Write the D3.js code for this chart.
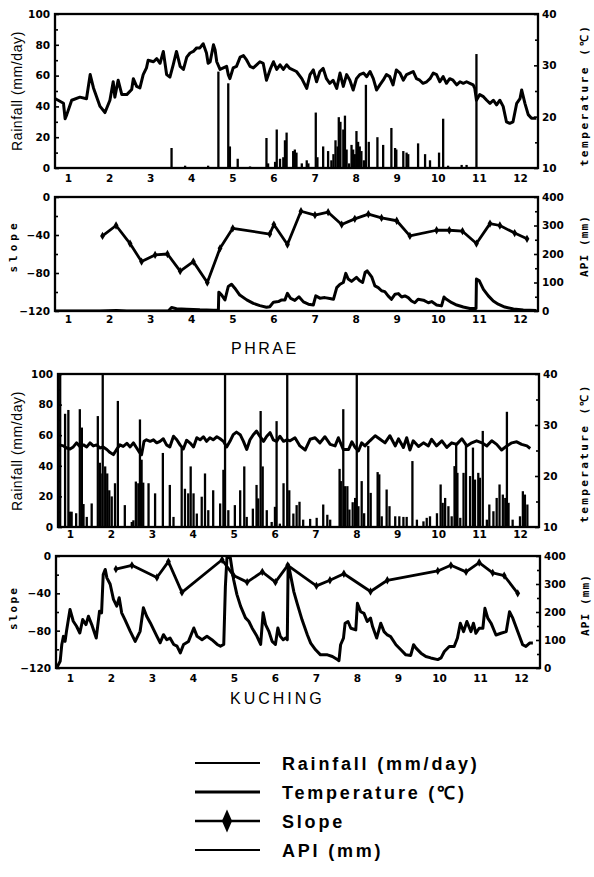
<!DOCTYPE html>
<html>
<head>
<meta charset="utf-8">
<script src="https://cdn.jsdelivr.net/npm/d3@7"></script>
<style>
  body { margin: 0; background: #fff; }
  svg { display: block; }
  .tick text { font-family: "DejaVu Sans", sans-serif; font-weight: bold; font-size: 10.5px; fill: #000; }
  .tick line { stroke: #000; stroke-width: 1.6; }
</style>
</head>
<body>
<script>
// ---------- data: x values are month positions (1 = Jan ... 12 = Dec) ----------
const months = [1, 2, 3, 4, 5, 6, 7, 8, 9, 10, 11, 12];
const rainTicks = [0, 20, 40, 60, 80, 100];
const tempTicks = [10, 20, 30, 40];
const slopeTicks = [-120, -80, -40, 0];
const apiTicks = [0, 100, 200, 300, 400];

// Phrae: daily air temperature (°C)
const phraeTemp = [
  [0.67,23.6],[0.76,23.2],[0.89,22.6],[0.93,19.6],[0.97,20.4],[1.09,23.2],[1.29,23.8],[1.45,23.5],
  [1.54,28.2],[1.62,25.6],[1.78,22.0],[1.90,20.8],[2.02,23.2],[2.10,26.8],[2.14,23.8],[2.22,27.1],
  [2.31,24.3],[2.43,24.3],[2.55,25.3],[2.59,27.4],[2.67,25.9],[2.75,25.6],[2.83,28.2],[2.91,29.5],
  [2.95,31.0],[3.08,30.7],[3.16,31.3],[3.24,30.4],[3.32,32.7],[3.40,28.2],[3.48,27.7],[3.56,30.1],
  [3.64,32.7],[3.73,29.8],[3.81,29.2],[3.89,31.6],[3.97,32.4],[4.05,32.7],[4.13,33.4],[4.21,33.4],
  [4.29,34.2],[4.37,32.4],[4.41,30.4],[4.46,30.7],[4.54,34.0],[4.58,33.0],[4.62,30.7],[4.70,29.2],
  [4.78,29.5],[4.86,29.8],[4.90,28.2],[4.94,27.4],[5.02,29.5],[5.10,29.8],[5.19,31.6],[5.27,31.9],
  [5.35,31.0],[5.43,29.8],[5.51,29.5],[5.59,30.1],[5.67,30.7],[5.75,30.4],[5.83,27.1],[5.92,29.2],
  [6.00,30.7],[6.08,29.2],[6.16,30.1],[6.24,29.2],[6.32,30.1],[6.40,29.4],[6.56,28.8],[6.69,27.4],
  [6.81,25.5],[6.89,28.2],[6.97,29.1],[7.05,26.8],[7.13,28.8],[7.21,29.4],[7.29,27.4],[7.37,26.5],
  [7.45,27.1],[7.54,25.5],[7.62,28.5],[7.70,25.9],[7.78,28.2],[7.86,27.1],[7.94,25.2],[8.02,27.4],
  [8.10,28.2],[8.19,28.5],[8.27,27.8],[8.35,28.8],[8.43,27.4],[8.51,25.2],[8.59,26.2],[8.67,27.1],
  [8.75,28.2],[8.83,27.8],[8.91,26.2],[8.99,29.1],[9.08,28.5],[9.16,27.1],[9.24,28.2],[9.32,28.5],
  [9.40,28.8],[9.48,27.4],[9.56,27.1],[9.64,26.5],[9.73,26.8],[9.81,27.4],[9.89,28.5],[9.97,28.2],
  [10.05,26.8],[10.13,27.8],[10.21,26.5],[10.29,27.4],[10.37,27.1],[10.46,26.2],[10.54,26.8],[10.62,26.5],
  [10.70,26.8],[10.78,26.5],[10.86,26.2],[10.90,25.5],[10.94,23.2],[11.02,24.3],[11.11,23.9],[11.19,23.2],
  [11.27,22.6],[11.35,23.2],[11.43,22.3],[11.51,23.2],[11.59,22.0],[11.67,19.0],[11.75,18.7],[11.83,19.0],
  [11.92,22.6],[12.00,23.5],[12.04,25.2],[12.12,22.6],[12.20,20.4],[12.28,19.7],[12.40,19.7]
];

// Phrae: daily rainfall (mm/day)
const phraeRain = [
  [3.52,13],[3.85,1.5],[4.41,1.5],[4.66,62.6],[4.90,55],[4.94,14],[5.13,6],[5.43,1],[5.83,19.5],[5.87,3],
  [6.04,4],[6.08,25],[6.16,6],[6.24,7],[6.28,18],[6.32,23],[6.48,11],[6.52,12],[6.56,10],[6.69,3],
  [6.81,5],[6.85,3],[7.03,36],[7.07,7],[7.21,14],[7.33,11],[7.41,5],[7.46,9],[7.51,18],[7.56,14],
  [7.59,33],[7.63,30],[7.70,25],[7.74,34],[7.78,12],[7.84,3],[7.90,15],[7.94,12],[7.98,9],[8.02,24],
  [8.06,17],[8.10,14],[8.14,11],[8.20,5],[8.25,54],[8.32,17],[8.53,20],[8.67,15],[8.87,26],[8.96,13],
  [8.99,12],[9.16,11],[9.24,10],[9.28,9],[9.52,16],[9.69,9],[9.81,5],[10.03,10],[10.13,32],[10.25,1.5],
  [10.58,2],[10.70,2],[10.94,74]
];

// Phrae: slope of the moisture curve
const phraeSlope = [
  [1.84,-41],[2.17,-30],[2.51,-49],[2.79,-68],[3.12,-61],[3.42,-60],[3.73,-78],[4.05,-68],[4.39,-90],
  [4.70,-54],[5.01,-33],[5.91,-39],[6.01,-29],[6.34,-50],[6.67,-15],[7.01,-19],[7.33,-16],[7.66,-29],
  [7.98,-23],[8.31,-18],[8.63,-22],[9.00,-25],[9.32,-41],[9.97,-35],[10.28,-35],[10.60,-36],[10.94,-49],
  [11.27,-28],[11.51,-30],[11.87,-38],[12.17,-44]
];

// Phrae: antecedent precipitation index (mm)
const phraeApi = [
  [0.67,0],[1.78,0],[2.18,2],[2.43,0],[3.44,0],[3.52,12],[3.64,8],[3.89,6],[4.21,4],[4.54,3],[4.66,3],
  [4.67,66],[4.74,56],[4.82,39],[4.90,86],[4.98,94],[5.06,80],[5.18,56],[5.35,39],[5.51,27],[5.67,19],
  [5.83,13],[5.91,15],[6.00,31],[6.12,33],[6.20,39],[6.28,39],[6.34,62],[6.42,44],[6.52,37],[6.62,50],
  [6.73,32],[6.85,24],[6.97,21],[7.03,53],[7.13,45],[7.25,47],[7.37,44],[7.46,41],[7.54,82],[7.62,94],
  [7.70,100],[7.76,132],[7.82,112],[7.90,104],[8.02,118],[8.10,106],[8.17,100],[8.23,135],[8.28,141],
  [8.39,120],[8.47,88],[8.55,82],[8.63,71],[8.71,68],[8.79,53],[8.87,41],[8.96,59],[9.04,61],[9.12,49],
  [9.20,53],[9.28,47],[9.36,35],[9.44,29],[9.52,41],[9.65,38],[9.77,29],[9.85,33],[9.97,21],[10.09,18],
  [10.15,49],[10.21,41],[10.34,29],[10.46,21],[10.62,14],[10.78,9],[10.93,9],[10.94,112],[11.01,106],
  [11.11,76],[11.23,53],[11.35,35],[11.47,24],[11.63,14],[11.84,7],[12.08,3.5],[12.40,2]
];

// Kuching: daily air temperature (°C)
const kuchingTemp = [
  [0.74,26.1],[0.84,25.9],[0.92,25.5],[1.00,25.3],[1.08,25.7],[1.16,26.5],[1.24,25.8],[1.33,26.1],
  [1.41,25.7],[1.49,26.5],[1.57,25.9],[1.65,26.1],[1.73,25.5],[1.81,25.7],[1.90,25.2],[1.98,24.6],
  [2.06,24.2],[2.14,25.2],[2.22,26.1],[2.30,25.8],[2.39,26.4],[2.47,25.7],[2.55,26.5],[2.63,25.5],
  [2.70,24.6],[2.75,24.2],[2.81,26.8],[2.87,27.1],[2.96,26.8],[3.04,27.1],[3.12,26.5],[3.20,26.8],
  [3.28,27.3],[3.36,26.1],[3.44,25.7],[3.53,27.8],[3.61,27.1],[3.69,26.1],[3.77,25.3],[3.85,27.0],
  [3.93,26.5],[4.02,25.7],[4.10,27.5],[4.18,27.1],[4.26,27.7],[4.34,26.8],[4.42,27.5],[4.50,27.1],
  [4.59,27.7],[4.67,27.3],[4.75,26.8],[4.83,25.7],[4.91,26.8],[4.99,28.1],[5.07,28.6],[5.16,28.1],
  [5.24,26.8],[5.32,25.2],[5.40,27.1],[5.48,28.1],[5.56,28.8],[5.64,27.8],[5.73,26.8],[5.81,27.8],
  [5.89,28.5],[5.97,27.1],[6.05,26.8],[6.13,27.8],[6.22,26.8],[6.30,27.1],[6.38,26.9],[6.50,27.5],
  [6.62,25.9],[6.75,25.1],[6.87,27.2],[6.99,27.5],[7.11,26.5],[7.23,27.7],[7.36,26.2],[7.48,25.9],
  [7.56,27.5],[7.68,25.2],[7.81,25.2],[7.89,26.7],[7.97,25.6],[8.05,24.9],[8.13,26.5],[8.21,25.9],
  [8.33,26.9],[8.46,27.9],[8.58,27.2],[8.70,26.5],[8.82,27.9],[8.95,25.9],[9.03,27.3],[9.15,25.6],
  [9.23,27.5],[9.31,25.1],[9.39,26.9],[9.52,25.8],[9.64,26.5],[9.76,25.9],[9.84,27.2],[9.96,25.9],
  [10.09,26.9],[10.21,25.6],[10.33,26.5],[10.45,26.2],[10.58,27.3],[10.70,25.9],[10.82,26.5],[10.94,26.9],
  [11.07,26.5],[11.19,25.9],[11.31,26.9],[11.43,26.2],[11.55,25.1],[11.68,25.9],[11.80,26.5],[11.92,26.7],
  [12.04,26.2],[12.17,25.9],[12.25,25.4]
];

// Kuching: daily rainfall (mm/day)
const kuchingRain = [
  [0.71,20],[0.76,100],[0.88,74],[0.96,76.5],[1.00,10],[1.04,10],[1.15,9],[1.24,77],[1.29,65],[1.33,15],
  [1.41,6.6],[1.53,15.4],[1.68,72.5],[1.73,42],[1.75,35],[1.80,100],[1.86,39.6],[1.91,35],[1.96,24],
  [2.02,20],[2.10,28.6],[2.17,82.4],[2.34,14.3],[2.51,3.3],[2.55,4.4],[2.61,29.7],[2.67,28.6],[2.71,70.3],
  [2.75,44],[2.79,29],[2.92,28.6],[3.08,22],[3.27,48.4],[3.44,27.5],[3.53,6.6],[3.73,51.6],[3.81,25],
  [3.89,22],[3.95,39.6],[4.02,22],[4.10,8.8],[4.22,19.8],[4.30,35],[4.38,11],[4.50,24],[4.67,15.4],
  [4.75,37.4],[4.79,100],[4.87,11],[5.03,14.3],[5.16,24],[5.26,39.6],[5.32,6.6],[5.47,12],[5.56,27.5],
  [5.60,18.7],[5.66,75.8],[5.71,39.6],[5.81,11],[5.93,3.3],[6.01,13.2],[6.05,69.2],[6.13,2.2],[6.22,28.6],
  [6.31,100],[6.36,24],[6.46,8.8],[6.54,14.3],[6.61,16.5],[6.70,4.8],[6.87,5.3],[7.03,6],[7.19,14.7],
  [7.29,8],[7.36,4.8],[7.59,38],[7.62,30],[7.68,77],[7.72,26.7],[7.78,26.7],[7.83,11.4],[7.91,16.2],
  [7.97,19],[8.01,100],[8.05,13.6],[8.13,30],[8.19,9],[8.29,53],[8.35,22.3],[8.52,35.9],[8.56,34.4],
  [8.62,7],[8.74,24.5],[8.81,13.6],[8.95,7],[9.05,7],[9.15,6.6],[9.23,6.6],[9.37,43.1],[9.48,4.8],
  [9.64,3.7],[9.72,6],[9.80,7],[9.97,9],[10.06,27.8],[10.11,15.8],[10.17,19],[10.25,13.6],[10.33,7],
  [10.40,39.8],[10.44,55],[10.47,35.4],[10.54,6],[10.62,35.4],[10.68,54],[10.78,33.3],[10.85,51.9],
  [10.90,31],[10.98,35.4],[11.02,32.2],[11.09,62.8],[11.19,4.8],[11.25,14.7],[11.35,10.3],[11.43,19],
  [11.50,27.8],[11.58,21.2],[11.64,19],[11.68,75.3],[11.72,15.8],[11.82,4.8],[12.00,7],[12.07,23.4],
  [12.12,21.2],[12.18,14.7]
];

// Kuching: slope of the moisture curve
const kuchingSlope = [
  [2.12,-14],[2.51,-10],[3.12,-23],[3.40,-6],[3.73,-39],[4.71,-4],[4.99,-21],[5.32,-28],[5.69,-17],
  [6.01,-28],[6.31,-10],[7.01,-32],[7.34,-26],[7.68,-19],[8.33,-38],[8.74,-26],[9.97,-16],[10.29,-10],
  [10.66,-17],[10.98,-7],[11.31,-18],[11.59,-21],[11.92,-40]
];

// Kuching: antecedent precipitation index (mm)
const kuchingApi = [
  [0.69,4],[0.76,24],[0.80,84],[0.84,113],[0.88,95],[0.92,137],[1.00,209],[1.08,167],[1.16,149],[1.24,125],
  [1.31,173],[1.39,155],[1.45,185],[1.53,155],[1.64,107],[1.72,203],[1.77,197],[1.81,334],[1.86,352],
  [1.90,322],[1.98,299],[2.06,245],[2.14,221],[2.20,251],[2.26,197],[2.34,173],[2.47,131],[2.59,95],
  [2.71,131],[2.79,215],[2.87,185],[2.96,161],[3.04,137],[3.12,113],[3.20,90],[3.28,119],[3.36,101],
  [3.44,107],[3.53,84],[3.61,78],[3.69,54],[3.77,84],[3.89,95],[4.02,143],[4.10,113],[4.22,101],
  [4.34,113],[4.46,101],[4.59,84],[4.67,78],[4.75,84],[4.79,292],[4.83,400],[4.91,394],[4.99,316],
  [5.07,263],[5.16,221],[5.28,179],[5.36,167],[5.44,143],[5.56,113],[5.65,84],[5.71,197],[5.77,155],
  [5.85,131],[5.93,95],[6.01,84],[6.07,143],[6.13,113],[6.20,101],[6.26,107],[6.30,101],[6.32,370],
  [6.36,346],[6.46,272],[6.54,231],[6.66,172],[6.79,118],[6.87,89],[6.99,65],[7.11,47],[7.28,47],
  [7.40,41],[7.52,30],[7.56,26],[7.60,83],[7.67,107],[7.71,160],[7.78,166],[7.85,142],[7.97,136],
  [8.01,231],[8.09,201],[8.17,195],[8.25,166],[8.33,178],[8.38,148],[8.48,107],[8.58,160],[8.66,130],
  [8.74,118],[8.82,112],[8.95,83],[9.07,65],[9.19,47],[9.31,45],[9.38,83],[9.44,71],[9.56,53],
  [9.68,41],[9.80,36],[9.97,30],[10.05,36],[10.13,59],[10.25,77],[10.37,77],[10.45,107],[10.52,160],
  [10.60,130],[10.68,166],[10.78,130],[10.84,160],[10.90,124],[10.98,142],[11.07,142],[11.12,213],
  [11.19,178],[11.27,160],[11.39,118],[11.51,124],[11.64,130],[11.72,201],[11.80,178],[11.92,130],
  [12.04,83],[12.12,77],[12.21,89],[12.29,89]
];

// ---------- drawing ----------
const W = 594, H = 877;
const svg = d3.select("body").append("svg").attr("width", W).attr("height", H);

const monoFont = '"DejaVu Sans Mono", monospace';
const sansFont = '"Liberation Sans", Arial, sans-serif';

function rotatedLabel(x, y, text, font, size, weight, spacing) {
  svg.append("text")
    .attr("transform", `translate(${x},${y}) rotate(-90)`)
    .attr("text-anchor", "middle")
    .style("font-family", font).style("font-size", size + "px")
    .style("font-weight", weight).style("letter-spacing", spacing + "px")
    .text(text);
}

function framePanel(o) {
  const x = d3.scaleLinear().domain([1, 12]).range(o.monthRange);
  const yl = d3.scaleLinear().domain(o.leftDomain).range([o.bottom, o.top]);
  const yr = d3.scaleLinear().domain(o.rightDomain).range([o.bottom, o.top]);

  const clipId = "clip-" + o.key;
  svg.append("clipPath").attr("id", clipId).append("rect")
    .attr("x", o.left).attr("y", o.top - 1)
    .attr("width", o.right - o.left).attr("height", o.bottom - o.top + 1);
  const plot = svg.append("g").attr("clip-path", `url(#${clipId})`);

  // left axis: major labelled ticks + minor ticks pointing inward
  const la = svg.append("g").attr("transform", `translate(${o.left},0)`)
    .call(d3.axisLeft(yl).tickValues(o.leftTicks).tickSize(-4).tickPadding(5));
  la.select(".domain").remove();
  const lm = svg.append("g").attr("transform", `translate(${o.left},0)`)
    .call(d3.axisLeft(yl).tickValues(o.leftMinor).tickSize(-3).tickFormat(""));
  lm.select(".domain").remove();

  // right axis
  const ra = svg.append("g").attr("transform", `translate(${o.right},0)`)
    .call(d3.axisRight(yr).tickValues(o.rightTicks).tickSize(-4).tickPadding(4));
  ra.select(".domain").remove();
  const rm = svg.append("g").attr("transform", `translate(${o.right},0)`)
    .call(d3.axisRight(yr).tickValues(o.rightMinor).tickSize(-3).tickFormat(""));
  rm.select(".domain").remove();

  // month axis
  const xa = svg.append("g").attr("transform", `translate(0,${o.bottom})`)
    .call(d3.axisBottom(x).tickValues(months).tickSize(0).tickPadding(o.xPad));
  xa.select(".domain").remove();

  // frame
  svg.append("rect")
    .attr("x", o.left).attr("y", o.top)
    .attr("width", o.right - o.left).attr("height", o.bottom - o.top)
    .attr("fill", "none").attr("stroke", "#000").attr("stroke-width", 2.3);

  return { x, yl, yr, plot };
}

function rainPanel(o, rain, temp) {
  const p = framePanel(Object.assign({
    leftDomain: [0, 100], rightDomain: [10, 40],
    leftTicks: rainTicks, leftMinor: [10, 30, 50, 70, 90],
    rightTicks: tempTicks, rightMinor: [15, 25, 35]
  }, o));
  p.plot.append("g").selectAll("line").data(rain).join("line")
    .attr("x1", d => p.x(d[0])).attr("x2", d => p.x(d[0]))
    .attr("y1", p.yl(0)).attr("y2", d => p.yl(d[1]))
    .attr("stroke", "#000").attr("stroke-width", 2.3);
  p.plot.append("path").datum(temp)
    .attr("d", d3.line().x(d => p.x(d[0])).y(d => p.yr(d[1])))
    .attr("fill", "none").attr("stroke", "#000")
    .attr("stroke-width", 3).attr("stroke-linejoin", "round");
}

function slopePanel(o, slope, api) {
  const p = framePanel(Object.assign({
    leftDomain: [-120, 0], rightDomain: [0, 400],
    leftTicks: slopeTicks, leftMinor: [-100, -60, -20],
    rightTicks: apiTicks, rightMinor: [50, 150, 250, 350]
  }, o));
  p.plot.append("path").datum(api)
    .attr("d", d3.line().x(d => p.x(d[0])).y(d => p.yr(d[1])))
    .attr("fill", "none").attr("stroke", "#000")
    .attr("stroke-width", 3).attr("stroke-linejoin", "round");
  p.plot.append("path").datum(slope)
    .attr("d", d3.line().x(d => p.x(d[0])).y(d => p.yl(d[1])))
    .attr("fill", "none").attr("stroke", "#000")
    .attr("stroke-width", 2.8).attr("stroke-linejoin", "round");
  p.plot.append("g").selectAll("path").data(slope).join("path")
    .attr("transform", d => `translate(${p.x(d[0])},${p.yl(d[1])})`)
    .attr("d", d3.symbol(d3.symbolDiamond, 20))
    .attr("fill", "#000");
}

// PHRAE
rainPanel({ key: "p1", left: 55, right: 538, top: 14, bottom: 168, monthRange: [68, 520], xPad: 6.5 },
  phraeRain, phraeTemp);
slopePanel({ key: "p2", left: 55, right: 538, top: 197, bottom: 311, monthRange: [68, 520], xPad: 5 },
  phraeSlope, phraeApi);

// KUCHING
rainPanel({ key: "k1", left: 58, right: 539, top: 374, bottom: 527, monthRange: [70, 520], xPad: 3.5 },
  kuchingRain, kuchingTemp);
slopePanel({ key: "k2", left: 56, right: 540, top: 556, bottom: 668, monthRange: [70, 521], xPad: 6.5 },
  kuchingSlope, kuchingApi);

// axis titles
rotatedLabel(22, 91, "Rainfall (mm/day)", sansFont, 14, "normal", 0.6);
rotatedLabel(22, 451, "Rainfall (mm/day)", sansFont, 14, "normal", 0.6);
rotatedLabel(17, 246, "slope", monoFont, 11, "bold", 4);
rotatedLabel(17, 608, "slope", monoFont, 11, "bold", 2.2);
rotatedLabel(588, 95, "temperature (℃)", monoFont, 11, "bold", 2.6);
rotatedLabel(588, 453, "temperature (℃)", monoFont, 11, "bold", 2.4);
rotatedLabel(588, 246, "API (mm)", monoFont, 11, "bold", 1.1);
rotatedLabel(589, 605, "API (mm)", monoFont, 11, "bold", 1.1);

// station names
svg.append("text").attr("x", 231).attr("y", 354)
  .style("font-family", sansFont).style("font-size", "16px").style("letter-spacing", "2.5px")
  .text("PHRAE");
svg.append("text").attr("x", 230).attr("y", 704)
  .style("font-family", sansFont).style("font-size", "16px").style("letter-spacing", "3px")
  .text("KUCHING");

// legend
const legendItems = [
  { label: "Rainfall (mm/day)", width: 2.2, marker: false },
  { label: "Temperature (℃)", width: 3, marker: false },
  { label: "Slope", width: 2.4, marker: true },
  { label: "API (mm)", width: 2.2, marker: false }
];
const legendY = d3.scalePoint().domain(legendItems.map(d => d.label)).range([763, 850]);
const lg = svg.append("g");
const rows = lg.selectAll("g").data(legendItems).join("g")
  .attr("transform", d => `translate(0,${legendY(d.label)})`);
rows.append("line").attr("x1", 195).attr("x2", 260).attr("y1", 0).attr("y2", 0)
  .attr("stroke", "#000").attr("stroke-width", d => d.width);
rows.filter(d => d.marker).append("path")
  .attr("transform", "translate(227,0) scale(1,1.3)")
  .attr("d", d3.symbol(d3.symbolDiamond, 90)).attr("fill", "#000");
rows.append("text").attr("x", 282).attr("y", 6.5)
  .style("font-family", sansFont).style("font-size", "18px").style("font-weight", "bold")
  .style("letter-spacing", "2.8px")
  .text(d => d.label);
</script>
</body>
</html>
